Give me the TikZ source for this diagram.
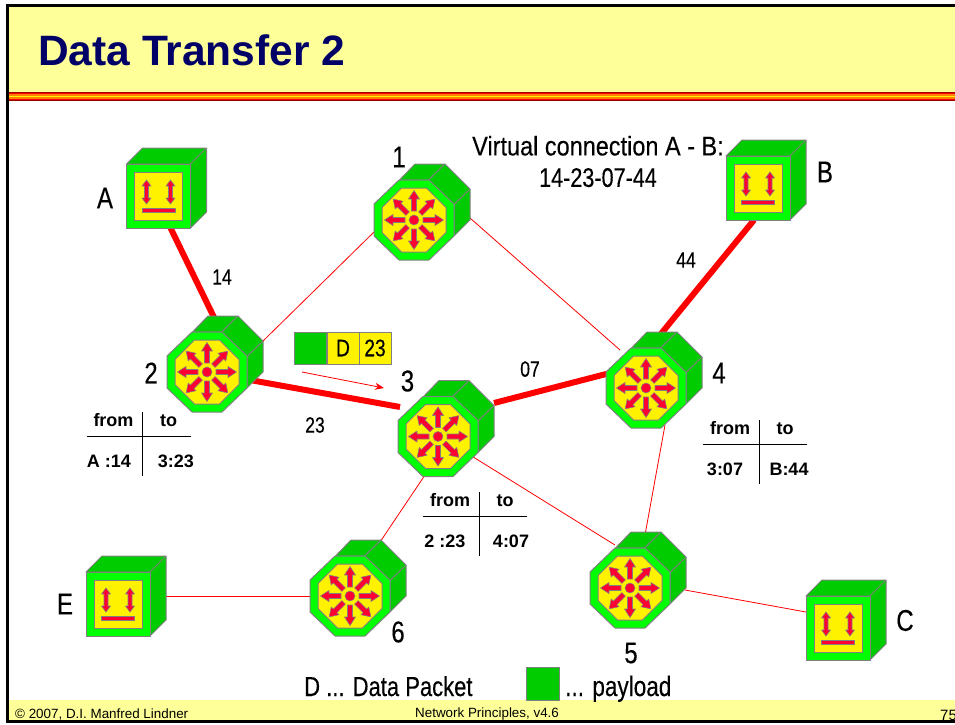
\documentclass[tikz,border=0pt]{standalone}
\usepackage{fontspec}
\setmainfont{Liberation Sans}
\newfontfamily\narrowfont[FakeStretch=0.8,FakeBold=0.25]{Liberation Sans}
\newfontfamily\widerfont[FakeStretch=0.87,FakeBold=0.25]{Liberation Sans}
\usetikzlibrary{arrows.meta}
\definecolor{bandyellow}{HTML}{FFFF99}
\definecolor{titleblue}{HTML}{000066}
\definecolor{lightgreen}{HTML}{00FF00}
\definecolor{darkgreen}{HTML}{00CC00}
\definecolor{arrowred}{HTML}{FF0033}
\tikzset{
  edge/.style={draw=gray,line width=1pt,line join=round},
  arrowbody/.style={draw=gray,line width=0.6pt,line join=round,fill=arrowred},
  thinlink/.style={draw=red,line width=0.8pt},
  thicklink/.style={draw=red,line width=6pt},
  devlabel/.style={font=\fontsize{30}{30}\selectfont\narrowfont,inner sep=0pt},
  linklabel/.style={font=\fontsize{22}{22}\selectfont\narrowfont,inner sep=0pt},
  tabletext/.style={font=\fontsize{18}{18}\selectfont\bfseries,inner sep=0pt},
  footertext/.style={font=\fontsize{13.4}{13.4}\selectfont,inner sep=0pt},
  pics/router/.style={code={
    \path[edge,fill=darkgreen] (-14.5,-40) -- (1,-56) -- (31,-56) -- (56,-31) -- (56,0) -- (40,16) -- (40,-15.5) -- (14.5,-40) -- cycle;
    \draw[edge] (14.5,-40) -- (31,-56);
    \draw[edge] (40,-15.5) -- (56,-31);
    \path[edge,fill=lightgreen] (-15,-40) -- (15,-40) -- (40,-16) -- (40,16) -- (15,40) -- (-15,40) -- (-40,16) -- (-40,-16) -- cycle;
    \path[edge,fill=yellow] (-12.5,-32) -- (12.5,-32) -- (32,-12.5) -- (32,12.5) -- (12.5,32) -- (-12.5,32) -- (-32,12.5) -- (-32,-12.5) -- cycle;
    \foreach \a in {0,45,...,315}
      \path[arrowbody,rotate=\a] (9,-2.5) -- (21,-2.5) -- (21,-5.5) -- (29.5,0) -- (21,5.5) -- (21,2.5) -- (9,2.5) -- cycle;
    \path[arrowbody] (0,0) circle (5);
  }},
  pics/host/.style={code={
    \path[edge,fill=darkgreen] (-32,-32) -- (-16,-48) -- (48,-48) -- (48,16) -- (32,32) -- (32,-32) -- cycle;
    \draw[edge] (32,-32) -- (48,-48);
    \path[edge,fill=lightgreen] (-32,-32) rectangle (32,32);
    \path[edge,fill=yellow] (-24,-24) rectangle (24,24);
    \foreach \x in {-12,12}
      \path[arrowbody,xshift=\x] (-2,-10) -- (-2,2) -- (-4.5,2) -- (0,8) -- (4.5,2) -- (2,2) -- (2,-10) -- (4.5,-10) -- (0,-16) -- (-4.5,-10) -- cycle;
    \path[arrowbody] (-16.5,12) rectangle (16.5,16.5);
  }}
}
% one routing table: name, crossing of the lines, the two entries, their offsets
\newcommand{\fromtotable}[7]{
  \node[tabletext] (#1f) at (#2-29,#3-15.5) {from};
  \node[tabletext] (#1t) at (#2+26,#3-15) {to};
  \node[tabletext] (#1a) at (#2-#6,#3+25) {#4};
  \node[tabletext] (#1b) at (#2+#7,#3+25) {#5};
  \coordinate (#1w) at (#2-56,#3);
  \coordinate (#1e) at (#2+48,#3);
  \coordinate (#1n) at (#2,#3-24);
  \coordinate (#1s) at (#2,#3+40);
  \draw[line width=1pt] (#1w) -- (#1e);
  \draw[line width=1pt] (#1n) -- (#1s);
}
\begin{document}
\begin{tikzpicture}[x=1pt,y=-1pt]
  \useasboundingbox (0,0) rectangle (955,724);
  % slide frame
  \fill[white] (0,0) rectangle (955,724);
  \fill[bandyellow] (7,5) rectangle (955,93);
  \fill[bandyellow] (7,700) rectangle (955,720);
  \node[anchor=west,inner sep=0pt,text=titleblue,font=\fontsize{42.5}{42.5}\selectfont\bfseries] (title) at (38,50.5) {Data Transfer 2};
  % link ends
  \foreach \n/\x/\y in {pa/155/196,pb/225/340,qa/262/342,qb/374/232,ra/250/380,rb/400/407,
      sa/470/218,sb/620/350,ta/494/403,tb/610/373,ua/660/335,ub/754/220,va/665/425,vb/645/535,
      wa/470/455,wb/615/545,xa/425/475,xb/378/545,ya/166/596,yb/310/596,za/685/590,zb/806/612}
    \coordinate (\n) at (\x,\y);
  \draw[thicklink] (pa) -- (pb);
  \draw[thinlink] (qa) -- (qb);
  \draw[thicklink] (ra) -- (rb);
  \draw[thinlink] (sa) -- (sb);
  \draw[thicklink] (ta) -- (tb);
  \draw[thicklink] (ua) -- (ub);
  \draw[thinlink] (va) -- (vb);
  \draw[thinlink] (wa) -- (wb);
  \draw[thinlink] (xa) -- (xb);
  \draw[thinlink] (ya) -- (yb);
  \draw[thinlink] (za) -- (zb);
  % devices
  \pic at (158.5,196) {host};
  \pic at (758,188) {host};
  \pic at (118,604) {host};
  \pic at (838,628) {host};
  \pic at (414,220) {router};
  \pic at (207,372) {router};
  \pic at (438,436.5) {router};
  \pic at (646,388) {router};
  \pic at (630,588) {router};
  \pic at (350,596) {router};
  \node[devlabel] (labA) at (105,198) {A};
  \node[devlabel] (labB) at (825,172) {B};
  \node[devlabel] (labC) at (905,620.5) {C};
  \node[devlabel] (labE) at (65,604) {E};
  \node[devlabel] (lab1) at (399,157) {1};
  \node[devlabel] (lab2) at (151,373) {2};
  \node[devlabel] (lab3) at (407.5,381) {3};
  \node[devlabel] (lab4) at (719,373) {4};
  \node[devlabel] (lab5) at (631,653) {5};
  \node[devlabel] (lab6) at (398,632) {6};
  \node[linklabel] (vc14) at (222,277) {14};
  \node[linklabel] (vc44) at (686,260) {44};
  \node[linklabel] (vc07) at (530,369) {07};
  \node[linklabel] (vc23) at (315,425) {23};
  \node[inner sep=0pt,align=center,font=\fontsize{27}{31.5}\selectfont\narrowfont] (virtual) at (598,161.5) {{\widerfont Virtual connection A - B:}\\14-23-07-44};
  % packet
  \node[edge,fill=darkgreen,minimum size=32pt,inner sep=0pt] (pkgreen) at (310.5,348) {};
  \node[edge,fill=yellow,minimum size=32pt,inner sep=0pt,font=\fontsize{24}{24}\selectfont\narrowfont] (pkd) at (343,348) {D};
  \node[edge,fill=yellow,minimum size=32pt,inner sep=0pt,font=\fontsize{24}{24}\selectfont\narrowfont] (pkv) at (375,348) {23};
  \coordinate (moveA) at (302,372);
  \coordinate (moveB) at (384,388);
  \draw[red,line width=0.8pt,-{Stealth[length=9pt,width=7pt]}] (moveA) -- (moveB);
  % tables
  \fromtotable{tabtwo}{142.5}{436}{A :14}{3:23}{33.5}{33.5}
  \fromtotable{tabthree}{479}{516}{2 :23}{4:07}{34}{32}
  \fromtotable{tabfour}{759}{444}{3:07}{B:44}{34}{30}
  % legend and footer
  \node[inner sep=0pt,anchor=base west,font=\fontsize{27.5}{27.5}\selectfont\narrowfont] (legD) at (304,696) {D ... Data Packet};
  \node[edge,fill=darkgreen,minimum width=33pt,minimum height=33pt,inner sep=0pt] (legbox) at (542.5,684) {};
  \node[inner sep=0pt,anchor=base west,font=\fontsize{28.2}{28.2}\selectfont\narrowfont] (legP) at (565,696) {... payload};
  \node[footertext,anchor=west] (copy) at (15,714) {© 2007, D.I. Manfred Lindner};
  \node[footertext,anchor=west] (netp) at (415,714) {Network Principles, v4.6};
  \node[footertext,anchor=west,font=\fontsize{15}{15}\selectfont] (page) at (940,715.5) {75};
  \fill[red!60!black] (6,92) rectangle (955,100.5);
  \fill[red] (6,92.5) rectangle (955,99.5);
  \fill[orange] (6,94) rectangle (955,98.5);
  \fill[yellow] (6,95.5) rectangle (955,97);
  \draw[line width=3pt] (7,5) -- (955,5);
  \draw[line width=3pt] (7,3.5) -- (7,721);
  \draw[line width=3pt] (5.5,721) -- (955,721);
\end{tikzpicture}
\end{document}
